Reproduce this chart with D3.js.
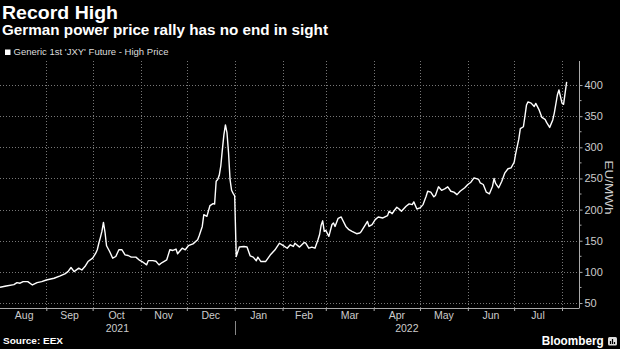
<!DOCTYPE html>
<html><head><meta charset="utf-8">
<script src="https://cdn.jsdelivr.net/npm/d3@7"></script>
<style>html,body{margin:0;padding:0;background:#000;} svg{display:block}</style>
</head><body><svg id="c" width="620" height="349"></svg>
<script>
const dates = ["2021-08-02","2021-08-06","2021-08-11","2021-08-13","2021-08-15","2021-08-17","2021-08-20","2021-08-23","2021-08-26","2021-08-29",
"2021-09-01","2021-09-06","2021-09-10","2021-09-13","2021-09-15","2021-09-17","2021-09-19","2021-09-22","2021-09-24","2021-09-26","2021-09-28",
"2021-10-01","2021-10-03","2021-10-04","2021-10-05","2021-10-06","2021-10-07","2021-10-08","2021-10-09","2021-10-10","2021-10-12","2021-10-14","2021-10-16","2021-10-18","2021-10-20","2021-10-22","2021-10-24","2021-10-26","2021-10-29","2021-10-31",
"2021-11-02","2021-11-05","2021-11-06","2021-11-09","2021-11-11","2021-11-13","2021-11-15","2021-11-18","2021-11-20","2021-11-22","2021-11-24","2021-11-25","2021-11-28","2021-11-30",
"2021-12-02","2021-12-05","2021-12-08","2021-12-09","2021-12-11","2021-12-12","2021-12-14","2021-12-16","2021-12-18","2021-12-19","2021-12-20","2021-12-21","2021-12-22","2021-12-23","2021-12-24","2021-12-25","2021-12-26","2021-12-27","2021-12-28","2021-12-29","2021-12-30","2021-12-31",
"2022-01-01","2022-01-02","2022-01-04","2022-01-07","2022-01-09","2022-01-11","2022-01-13","2022-01-15","2022-01-16","2022-01-18","2022-01-21","2022-01-24","2022-01-27","2022-01-30",
"2022-02-01","2022-02-04","2022-02-06","2022-02-08","2022-02-09","2022-02-12","2022-02-15","2022-02-16","2022-02-18","2022-02-20","2022-02-22","2022-02-24","2022-02-25","2022-02-26","2022-02-27","2022-02-28",
"2022-03-01","2022-03-03","2022-03-05","2022-03-06","2022-03-07","2022-03-09","2022-03-11","2022-03-12","2022-03-14","2022-03-16","2022-03-18","2022-03-21","2022-03-23","2022-03-24","2022-03-26","2022-03-28","2022-03-29","2022-03-31",
"2022-04-02","2022-04-04","2022-04-07","2022-04-10","2022-04-11","2022-04-13","2022-04-14","2022-04-16","2022-04-18","2022-04-19","2022-04-22","2022-04-24","2022-04-26","2022-04-27","2022-04-29",
"2022-05-01","2022-05-03","2022-05-05","2022-05-06","2022-05-08","2022-05-10","2022-05-11","2022-05-13","2022-05-15","2022-05-17","2022-05-19","2022-05-21","2022-05-23","2022-05-25","2022-05-27","2022-05-30",
"2022-06-01","2022-06-03","2022-06-05","2022-06-08","2022-06-09","2022-06-11","2022-06-13","2022-06-15","2022-06-17","2022-06-18","2022-06-19","2022-06-21","2022-06-23","2022-06-25","2022-06-27","2022-06-29",
"2022-07-01","2022-07-02","2022-07-04","2022-07-05","2022-07-07","2022-07-08","2022-07-09","2022-07-10","2022-07-12","2022-07-14","2022-07-15","2022-07-17","2022-07-19","2022-07-21","2022-07-22","2022-07-24","2022-07-26","2022-07-27","2022-07-29","2022-07-30",
"2022-08-01","2022-08-02","2022-08-04"];
const values = [75.3,77.4,79.5,82.7,81.8,84.4,84.4,79,82.7,84.4,
87,89.8,93.5,96.8,100.5,107,100.5,106,103,108.5,116.6,
122,130,135.5,146,155,165,179.5,164,142,132.7,122,124.7,135.5,135.5,127.4,126.3,123.7,123.7,119.4,
116.6,111.3,118,118,117,111.3,115,119.4,135.5,134.4,136.6,129,138,135.5,
142,145,151.6,158,173,192,189.2,206.5,209.7,209,245.6,248.4,255,270,296,320,336,323.7,292,248,231,226,
222,124.7,140,140.8,140,125.8,123.7,118,123.7,116.6,116.6,127,135,146,
143,138,143.5,140.8,146,139.8,147.3,146,138,139.8,138,152,160,175,182,165,
166.6,157,176,178.5,173,186,188.2,183,173,167.7,165,161.3,162.4,165,173,181,173,175.8,
183.9,188.2,186.6,190.3,197.3,193.5,197.3,203.7,200,197.3,205.4,209.2,208,212.4,201,
202.7,208,221.5,229.5,228,220.5,222.6,236.6,231,233.3,236.6,229.5,228,224,229.5,235,
240.3,244,251,248.4,243,240.3,228,225.3,237.6,250,242,235,245.6,259,265.6,267,
276,290,313,330,333,350,368,373,371,365.6,370.5,361,348,345,340,332,344,355,384,392,
371,369,405];
const yTicks = [50,100,150,200,250,300,350,400];
const yMinorTicks = [75,125,175,225,275,325,375];
const monthLabels = ["Aug","Sep","Oct","Nov","Dec","Jan","Feb","Mar","Apr","May","Jun","Jul"];
const monthStart = "2021-08-01";
const yearLabels = ["2021","2022"];
const yearBounds = ["2021-08-01","2022-01-01","2022-08-12"];
const domainStart = "2021-08-02", domainEnd = "2022-08-12";
const yDomain = [42, 438.6];

const parse = d3.timeParse("%Y-%m-%d");
const svg = d3.select("#c");
svg.append("rect").attr("width",620).attr("height",349).attr("fill","#000");

const L = 0, R = 579, T = 61, B = 308;
const x = d3.scaleTime().domain([parse(domainStart), parse(domainEnd)]).range([L, R]);
const y = d3.scaleLinear().domain(yDomain).range([B, T]);
const font = "'Liberation Sans', Arial, sans-serif";

// titles
svg.append("text").attr("x",2).attr("y",19).text("Record High")
  .attr("font-family",font).attr("font-weight","bold").attr("font-size",18).attr("fill","#fff")
  .attr("textLength",116).attr("lengthAdjust","spacingAndGlyphs");
svg.append("text").attr("x",2).attr("y",35).text("German power price rally has no end in sight")
  .attr("font-family",font).attr("font-weight","bold").attr("font-size",14).attr("fill","#fff")
  .attr("textLength",326).attr("lengthAdjust","spacingAndGlyphs");
// legend
svg.append("rect").attr("x",5).attr("y",49.5).attr("width",5.5).attr("height",5.5).attr("fill","#fff");
svg.append("text").attr("x",13.5).attr("y",55.3).text("Generic 1st 'JXY' Future - High Price")
  .attr("font-family",font).attr("font-size",8.5).attr("fill","#ddd")
  .attr("textLength",155).attr("lengthAdjust","spacingAndGlyphs");

// gridlines
const months = d3.timeMonth.range(d3.timeMonth.offset(parse(monthStart),1), parse(domainEnd));
svg.append("g").selectAll("line").data(months).join("line")
  .attr("x1",d=>Math.round(x(d))+0.5).attr("x2",d=>Math.round(x(d))+0.5).attr("y1",T).attr("y2",B)
  .attr("stroke","#777").attr("stroke-width",1).attr("stroke-dasharray","1,2");
svg.append("g").selectAll("line").data(yTicks).join("line")
  .attr("x1",L).attr("x2",R).attr("y1",d=>Math.round(y(d))+0.5).attr("y2",d=>Math.round(y(d))+0.5)
  .attr("stroke","#777").attr("stroke-width",1).attr("stroke-dasharray","1,2");

// x axis
const xAxis = d3.axisBottom(x).tickValues(months).tickSize(3).tickFormat("");
const gx = svg.append("g").attr("transform",`translate(0,${B})`).call(xAxis);
gx.select(".domain").attr("stroke","#aaa").attr("d",`M${L},0.5H${R}`);
gx.selectAll(".tick line").attr("stroke","#aaa");
const mStarts = monthLabels.map((m,i)=>d3.timeMonth.offset(parse(monthStart), i));
svg.append("g").selectAll("text").data(monthLabels).join("text")
  .attr("x",(d,i)=>(Math.max(L,x(mStarts[i])) + x(d3.timeMonth.offset(mStarts[i],1)))/2 + (i===0?1:0))
  .attr("y",319).attr("text-anchor","middle").text(d=>d)
  .attr("font-family",font).attr("font-size",10.5).attr("fill","#ccc");
svg.append("g").selectAll("text").data(yearLabels).join("text")
  .attr("x",(d,i)=>(Math.max(L,x(parse(yearBounds[i]))) + Math.min(R,x(parse(yearBounds[i+1]))))/2)
  .attr("y",332).attr("text-anchor","middle").text(d=>d)
  .attr("font-family",font).attr("font-size",10.5).attr("fill","#ccc");
svg.append("line").attr("x1",Math.round(x(parse(yearBounds[1])))+0.5).attr("x2",Math.round(x(parse(yearBounds[1])))+0.5)
  .attr("y1",321).attr("y2",335).attr("stroke","#888");

// y axis
const gy = svg.append("g").attr("transform",`translate(${R+0.5},0)`)
  .call(d3.axisRight(y).tickValues(yTicks).tickSize(3).tickPadding(2));
gy.select(".domain").attr("stroke","#aaa").attr("d",`M0,${T}V${B+0.5}`);
gy.selectAll(".tick line").attr("stroke","#aaa");
gy.selectAll(".tick text").attr("font-family",font).attr("font-size",11).attr("fill","#ccc");
svg.append("g").attr("transform",`translate(${R+0.5},0)`).selectAll("line").data(yMinorTicks).join("line")
  .attr("x1",0).attr("x2",2).attr("y1",d=>y(d)).attr("y2",d=>y(d)).attr("stroke","#aaa");
svg.append("text").attr("transform","translate(605,187.5) rotate(90)").attr("text-anchor","middle")
  .text("EU/MWh").attr("font-family",font).attr("font-size",11).attr("fill","#ccc")
  .attr("textLength",54).attr("lengthAdjust","spacingAndGlyphs");

// line
const data = dates.map((d,i)=>({date:parse(d), v:values[i]}));
svg.append("path").datum(data)
  .attr("d", d3.line().x(d=>x(d.date)).y(d=>y(d.v)))
  .attr("fill","none").attr("stroke","#fff").attr("stroke-width",1.4).attr("stroke-linejoin","round");

// footer
svg.append("text").attr("x",3).attr("y",344.3).text("Source: EEX")
  .attr("font-family",font).attr("font-weight","bold").attr("font-size",9.5).attr("fill","#fff")
  .attr("textLength",60).attr("lengthAdjust","spacingAndGlyphs");
svg.append("text").attr("x",541.7).attr("y",345).text("Bloomberg")
  .attr("font-family",font).attr("font-weight","bold").attr("font-size",12.5).attr("fill","#fff")
  .attr("textLength",62).attr("lengthAdjust","spacingAndGlyphs");
const logo = svg.append("g").attr("transform","translate(608,337)");
logo.append("rect").attr("width",9).attr("height",8.5).attr("rx",1.5).attr("fill","#ddd");
[[2.5,4],[4.5,2],[6.5,5]].forEach(([bx,by])=>logo.append("rect").attr("x",bx-0.6).attr("y",by).attr("width",1.2).attr("height",7-by).attr("fill","#000"));
</script></body></html>
